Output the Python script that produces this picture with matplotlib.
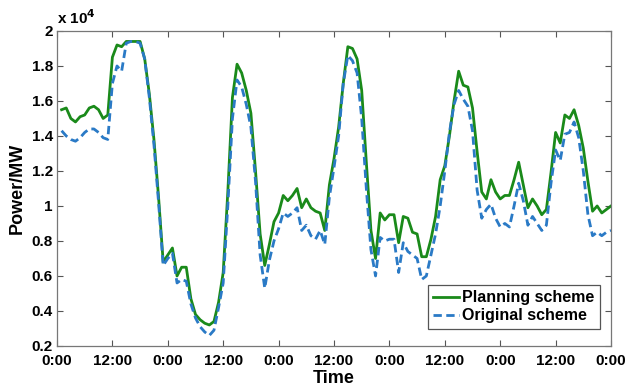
import matplotlib
matplotlib.use("Agg")
import matplotlib.pyplot as plt
from matplotlib.ticker import FuncFormatter

# hourly power, units of 1e4 MW
hours = list(range(1, 121))
planning = [
    1.55, 1.56, 1.50, 1.48, 1.51, 1.52, 1.56, 1.57, 1.55, 1.50,
    1.52, 1.85, 1.92, 1.91, 1.94, 1.94, 1.94, 1.94, 1.84, 1.64,
    1.38, 1.05, 0.68, 0.72, 0.76, 0.60, 0.65, 0.65, 0.47, 0.38,
    0.35, 0.33, 0.32, 0.34, 0.45, 0.62, 1.08, 1.62, 1.81, 1.76,
    1.66, 1.53, 1.20, 0.84, 0.66, 0.78, 0.91, 0.96, 1.06, 1.03,
    1.06, 1.10, 0.99, 1.04, 0.99, 0.97, 0.96, 0.86, 1.12, 1.27,
    1.45, 1.70, 1.91, 1.90, 1.84, 1.66, 1.25, 0.86, 0.70, 0.96,
    0.92, 0.95, 0.95, 0.79, 0.94, 0.93, 0.85, 0.84, 0.71, 0.71,
    0.81, 0.94, 1.15, 1.23, 1.40, 1.60, 1.77, 1.69, 1.68, 1.56,
    1.31, 1.08, 1.04, 1.15, 1.08, 1.04, 1.06, 1.06, 1.15, 1.25,
    1.12, 0.99, 1.04, 1.00, 0.95, 0.98, 1.19, 1.42, 1.36, 1.52,
    1.50, 1.55, 1.46, 1.33, 1.14, 0.97, 1.00, 0.96, 0.98, 1.00,
]
original = [
    1.43, 1.40, 1.38, 1.37, 1.39, 1.42, 1.44, 1.44, 1.42, 1.39,
    1.38, 1.70, 1.80, 1.77, 1.93, 1.94, 1.94, 1.93, 1.84, 1.62,
    1.35, 1.02, 0.66, 0.70, 0.73, 0.56, 0.58, 0.57, 0.44, 0.36,
    0.31, 0.28, 0.26, 0.29, 0.42, 0.56, 1.00, 1.50, 1.72, 1.68,
    1.58, 1.45, 1.14, 0.72, 0.53, 0.69, 0.80, 0.87, 0.96, 0.94,
    0.96, 0.99, 0.86, 0.89, 0.83, 0.81, 0.86, 0.78, 1.05, 1.22,
    1.40, 1.70, 1.86, 1.83, 1.76, 1.50, 1.10, 0.75, 0.60, 0.82,
    0.80, 0.81, 0.81, 0.62, 0.79, 0.74, 0.72, 0.70, 0.58, 0.60,
    0.72, 0.84, 1.00, 1.20, 1.42, 1.58, 1.66, 1.61, 1.57, 1.43,
    1.09, 0.93, 0.98, 1.01, 0.93, 0.88, 0.90, 0.88, 1.00, 1.13,
    1.03, 0.89, 0.94, 0.90, 0.86, 0.89, 1.13, 1.32, 1.26, 1.41,
    1.42, 1.48, 1.39, 1.20, 0.95, 0.83, 0.85, 0.83, 0.85, 0.86,
]
tick_hours = list(range(0, 121, 12))
tick_labels = ["0:00", "12:00"] * 5 + ["0:00"]
y_ticks = [0.2, 0.4, 0.6, 0.8, 1.0, 1.2, 1.4, 1.6, 1.8, 2.0]

plt.rcParams["font.family"] = "Liberation Sans"
plt.rcParams["font.weight"] = "bold"

fig = plt.figure(figsize=(6.27, 3.87), dpi=100)
ax = fig.add_axes([0.0909, 0.106, 0.8836, 0.814])

ax.plot(hours, planning, color="#1a8a1a", lw=2.0, label="Planning scheme")
ax.plot(hours, original, color="#2a7ac6", lw=2.0, ls=(0, (3, 1.6)), label="Original scheme")

ax.set_xlim(0, 120)
ax.set_ylim(0.2, 2.0)
ax.set_xticks(tick_hours)
ax.set_xticklabels(tick_labels)
ax.set_yticks(y_ticks)
ax.yaxis.set_major_formatter(FuncFormatter(lambda v, p: f"{v:g}"))
ax.tick_params(direction="in", top=True, right=True, length=4, width=0.8,
               color="#555555", labelsize=11)
ax.tick_params(axis="x", pad=6)
ax.tick_params(axis="y", pad=3)
for lab in ax.get_xticklabels() + ax.get_yticklabels():
    lab.set_fontweight("bold")
for s in ax.spines.values():
    s.set_color("#777777")
    s.set_linewidth(0.9)

ax.set_xlabel("Time", fontsize=13, fontweight="bold", labelpad=1)
ax.set_ylabel("Power/MW", fontsize=13, fontweight="bold", labelpad=4)
ax.text(0.0, 1.012, "x 10$^4$", transform=ax.transAxes, fontsize=11,
        fontweight="bold", va="bottom", ha="left")

leg = ax.legend(loc="lower right", bbox_to_anchor=(0.98, 0.054), borderaxespad=0,
                fontsize=11.5, handlelength=1.6, handletextpad=0.2, borderpad=0.35,
                labelspacing=0.2, fancybox=False, framealpha=1)
leg.get_frame().set_edgecolor("#555555")
leg.get_frame().set_linewidth(0.9)
for t in leg.get_texts():
    t.set_fontweight("bold")

fig.savefig("out.png", dpi=100)
